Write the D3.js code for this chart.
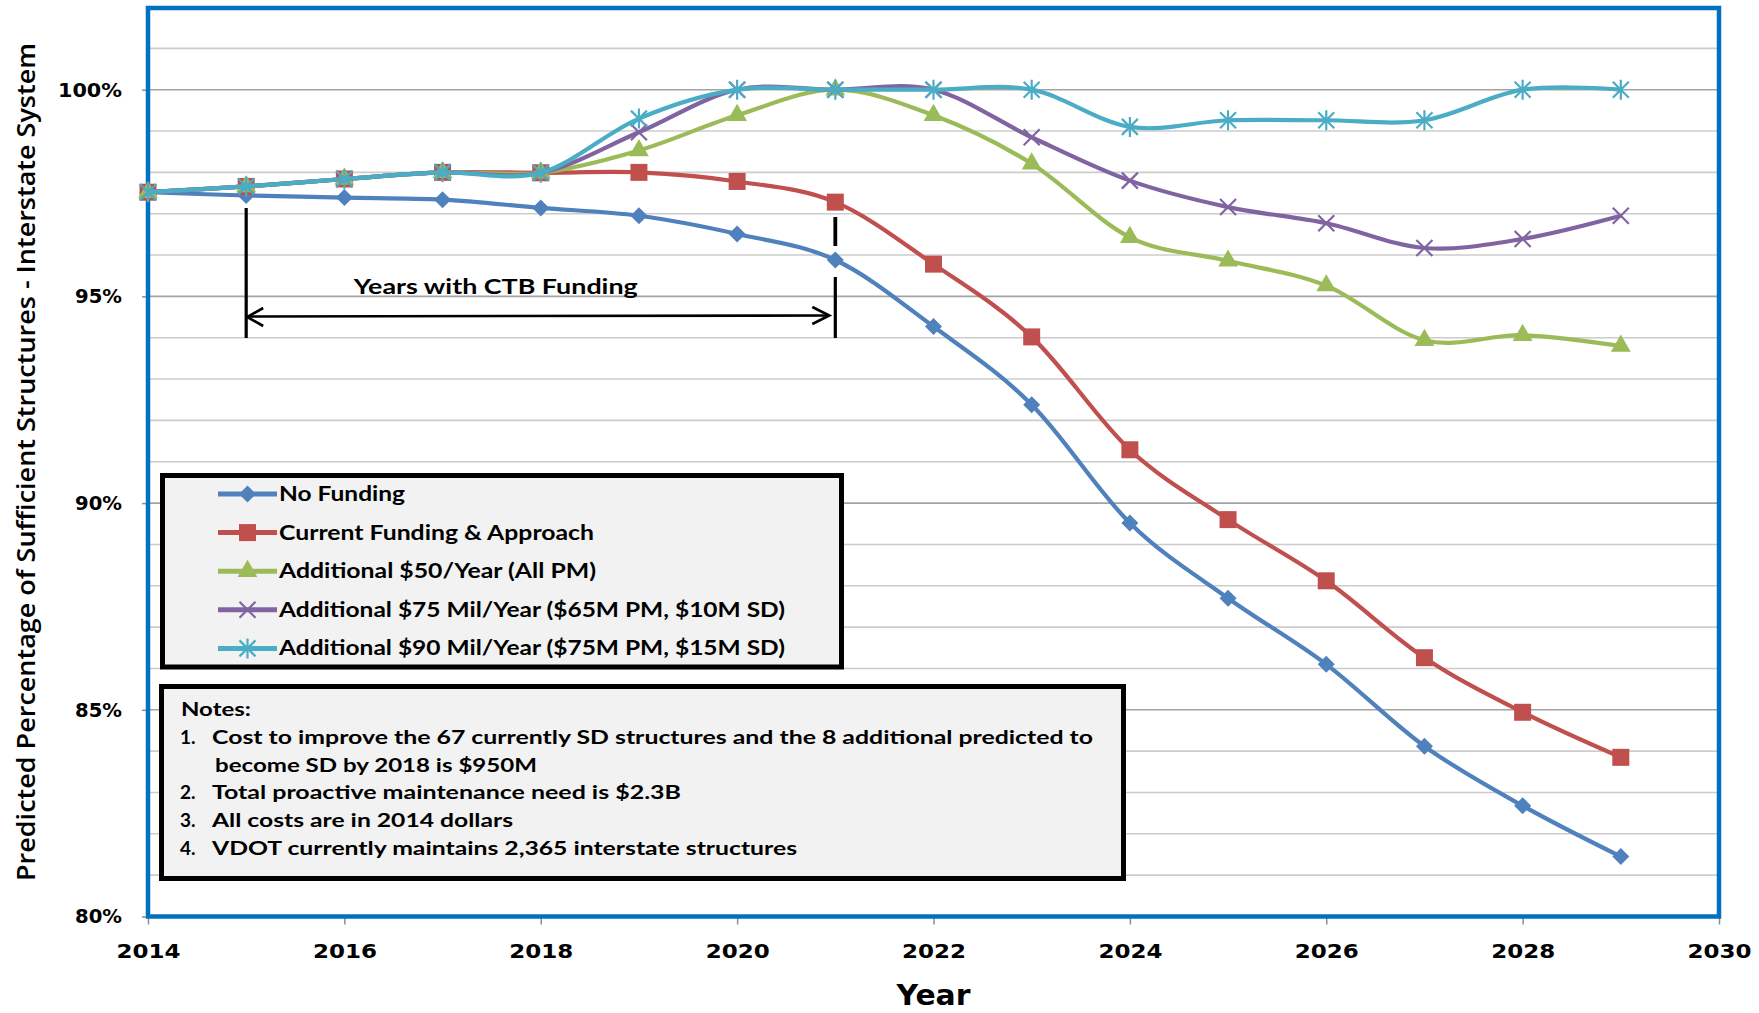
<!DOCTYPE html>
<html>
<head>
<meta charset="utf-8">
<script src="https://cdn.jsdelivr.net/npm/d3@7"></script>
<style>
  html, body { margin: 0; padding: 0; background: #ffffff; }
  svg { display: block; }
</style>
</head>
<body>
<svg id="chart" width="1759" height="1013"></svg>
<script>
// ---- data ----
const years = [2014, 2015, 2016, 2017, 2018, 2019, 2020, 2021, 2022, 2023, 2024, 2025, 2026, 2027, 2028, 2029];
const noFunding      = [97.52, 97.44, 97.39, 97.34, 97.14, 96.95, 96.51, 95.88, 94.27, 92.38, 89.52, 87.70, 86.10, 84.12, 82.68, 81.45];
const currentFunding = [97.52, 97.66, 97.84, 98.00, 97.99, 98.00, 97.78, 97.28, 95.78, 94.02, 91.29, 89.60, 88.12, 86.26, 84.94, 83.85];
const add50          = [97.52, 97.66, 97.84, 98.00, 97.99, 98.53, 99.38, 100.0, 99.38, 98.21, 96.43, 95.86, 95.26, 93.94, 94.06, 93.80];
const add75          = [97.52, 97.66, 97.84, 98.00, 97.99, 98.97, 100.0, 100.0, 100.0, 98.85, 97.80, 97.16, 96.77, 96.17, 96.39, 96.95];
const add90          = [97.52, 97.66, 97.84, 98.00, 97.99, 99.30, 100.0, 100.0, 100.0, 100.0, 99.10, 99.26, 99.26, 99.26, 100.0, 100.0];

const seriesNames = [
  "No Funding",
  "Current Funding & Approach",
  "Additional $50/Year (All PM)",
  "Additional $75 Mil/Year ($65M PM, $10M SD)",
  "Additional $90 Mil/Year ($75M PM, $15M SD)"
];
const seriesValues = [noFunding, currentFunding, add50, add75, add90];
const seriesColors = ["#4F81BD", "#C0504D", "#9BBB59", "#8064A2", "#4BACC6"];
const seriesSymbols = ["diamond", "square", "triangle", "cross", "asterisk"];

const yTickValues = [80, 85, 90, 95, 100];
const yGridValues = [81, 82, 83, 84, 85, 86, 87, 88, 89, 90, 91, 92, 93, 94, 95, 96, 97, 98, 99, 100, 101];
const xTickValues = [2014, 2016, 2018, 2020, 2022, 2024, 2026, 2028, 2030];

const fundingSpan = [2015, 2021];
const fundingLabel = "Years with CTB Funding";
const notesTitle = "Notes:";
const notes = [
  ["1.", "Cost to improve the 67 currently SD structures and the 8 additional predicted to", "become SD by 2018 is $950M"],
  ["2.", "Total proactive maintenance need is $2.3B"],
  ["3.", "All costs are in 2014 dollars"],
  ["4.", "VDOT currently maintains 2,365 interstate structures"]
];
const yTitle = "Predicted Percentage of Sufficient Structures - Interstate System";
const xTitle = "Year";

// ---- layout ----
const plot = { left: 148, right: 1719, top: 7, bottom: 916.5 };
const FONT = "Lato, 'Open Sans', sans-serif";
const WIDE_FONT = "'DejaVu Sans', Verdana, sans-serif";

const svg = d3.select("#chart");

const x = d3.scaleLinear().domain([2014, 2030]).range([plot.left, plot.right]);
const y = d3.scaleLinear().domain([80, 102]).range([plot.bottom, plot.top]);

// stretch a text element to a given rendered width
function fit(sel, w) {
  sel.attr("textLength", w).attr("lengthAdjust", "spacingAndGlyphs");
}

// ---- gridlines ----
svg.append("g").selectAll("line")
  .data(yGridValues)
  .join("line")
  .attr("x1", plot.left).attr("x2", plot.right)
  .attr("y1", d => y(d)).attr("y2", d => y(d))
  .attr("stroke", d => d % 5 === 0 ? "#a3a3a3" : "#cccccc")
  .attr("stroke-width", 1.6);

// ---- axes ----
const yAxis = svg.append("g")
  .attr("transform", `translate(${plot.left},0)`)
  .call(d3.axisLeft(y).tickValues(yTickValues).tickFormat(d => d + "%").tickSize(6).tickPadding(20));
yAxis.select(".domain").remove();
yAxis.selectAll(".tick line").attr("stroke", "#8c8c8c").attr("stroke-width", 1.5);
yAxis.selectAll(".tick text")
  .attr("font-family", WIDE_FONT).attr("font-weight", 700).attr("font-size", 20)
  .attr("fill", "#000")
  .each(function (d) { fit(d3.select(this), String(d).length >= 3 ? 64 : 47); });

const xAxis = svg.append("g")
  .attr("transform", `translate(0,${plot.bottom})`)
  .call(d3.axisBottom(x).tickValues(xTickValues).tickFormat(d3.format("d")).tickSize(8).tickPadding(19));
xAxis.select(".domain").remove();
xAxis.selectAll(".tick line").attr("stroke", "#8c8c8c").attr("stroke-width", 1.5);
xAxis.selectAll(".tick text")
  .attr("font-family", WIDE_FONT).attr("font-weight", 700).attr("font-size", 20)
  .attr("fill", "#000")
  .each(function () { fit(d3.select(this), 64); });

// ---- plot border ----
svg.append("rect")
  .attr("x", plot.left).attr("y", plot.top + 1)
  .attr("width", plot.right - plot.left).attr("height", plot.bottom - plot.top - 1)
  .attr("fill", "none").attr("stroke", "#0070C0").attr("stroke-width", 4.5);

// ---- axis titles ----
const yt = svg.append("text")
  .attr("transform", "translate(35,462) rotate(-90)")
  .attr("text-anchor", "middle")
  .attr("font-family", "'Open Sans', 'DejaVu Sans', sans-serif").attr("font-weight", 600)
  .attr("font-size", 26).attr("fill", "#000")
  .text(yTitle);
fit(yt, 838);

const xt = svg.append("text")
  .attr("x", (plot.left + plot.right) / 2).attr("y", 1005)
  .attr("text-anchor", "middle")
  .attr("font-family", WIDE_FONT).attr("font-weight", 700).attr("font-size", 28).attr("fill", "#000")
  .text(xTitle);
fit(xt, 74);

// ---- funding-years annotation ----
const ann = svg.append("g").attr("stroke", "#000").attr("fill", "none");
const ax0 = x(fundingSpan[0]), ax1 = x(fundingSpan[1]);
ann.append("line").attr("x1", ax0).attr("x2", ax0).attr("y1", 208).attr("y2", 338).attr("stroke-width", 3.2);
ann.append("line").attr("x1", ax1).attr("x2", ax1).attr("y1", 217).attr("y2", 246).attr("stroke-width", 3.8);
ann.append("line").attr("x1", ax1).attr("x2", ax1).attr("y1", 277).attr("y2", 338).attr("stroke-width", 3.2);
ann.append("line").attr("x1", ax0 + 2).attr("x2", ax1 - 7).attr("y1", 316.5).attr("y2", 315.5).attr("stroke-width", 2.6);
ann.append("path").attr("d", `M${ax0 + 17},308 L${ax0 + 1},317 L${ax0 + 17},326`).attr("stroke-width", 2.6);
ann.append("path").attr("d", `M${ax1 - 23},307 L${ax1 - 6},315.5 L${ax1 - 23},324`).attr("stroke-width", 2.6);
const fl = svg.append("text")
  .attr("x", (ax0 + ax1) / 2 - 45).attr("y", 294)
  .attr("text-anchor", "middle")
  .attr("font-family", FONT).attr("font-weight", 700).attr("font-size", 21).attr("fill", "#000")
  .text(fundingLabel);
fit(fl, 284);

// ---- markers ----
function markerPath(kind) {
  switch (kind) {
    case "diamond": return "M0,-8.5L8.5,0L0,8.5L-8.5,0Z";
    case "square": return d3.symbol(d3.symbolSquare, 289)();
    case "triangle": return d3.symbol(d3.symbolTriangle, 170)();
    case "cross": return "M-8,-8L8,8M-8,8L8,-8";
    case "asterisk": return "M-8,-8L8,8M-8,8L8,-8M0,-10L0,10";
  }
}
function drawMarker(g, kind, color) {
  const filled = kind === "diamond" || kind === "square" || kind === "triangle";
  g.append("path")
    .attr("d", markerPath(kind))
    .attr("fill", filled ? color : "none")
    .attr("stroke", filled ? "none" : color)
    .attr("stroke-width", filled ? 0 : 2.2);
}

// ---- series lines ----
const line = d3.line()
  .x((d, i) => x(years[i]))
  .y(d => y(d))
  .curve(d3.curveCardinal.tension(0));

seriesValues.forEach((vals, s) => {
  const g = svg.append("g");
  g.append("path")
    .datum(vals)
    .attr("d", line)
    .attr("fill", "none")
    .attr("stroke", seriesColors[s])
    .attr("stroke-width", 4.2)
    .attr("stroke-linejoin", "round");
  g.selectAll("g.m")
    .data(vals)
    .join("g")
    .attr("class", "m")
    .attr("transform", (d, i) => `translate(${x(years[i])},${y(d)})`)
    .each(function () { drawMarker(d3.select(this), seriesSymbols[s], seriesColors[s]); });
});

// ---- legend ----
const legend = svg.append("g");
legend.append("rect")
  .attr("x", 162.5).attr("y", 475.5).attr("width", 679).attr("height", 191.5)
  .attr("fill", "#f2f2f2").attr("stroke", "#000").attr("stroke-width", 5);
const legendWidths = [126, 315, 317, 506, 506];
seriesNames.forEach((name, s) => {
  const cy = 494 + s * 38.6;
  legend.append("line")
    .attr("x1", 218).attr("x2", 277).attr("y1", cy).attr("y2", cy)
    .attr("stroke", seriesColors[s]).attr("stroke-width", 5);
  const mg = legend.append("g").attr("transform", `translate(247.5,${cy})`);
  drawMarker(mg, seriesSymbols[s], seriesColors[s]);
  const t = legend.append("text")
    .attr("x", 279).attr("y", cy + 7)
    .attr("font-family", FONT).attr("font-weight", 700).attr("font-size", 20).attr("fill", "#000")
    .text(name);
  fit(t, legendWidths[s]);
});

// ---- notes box ----
const nb = svg.append("g");
nb.append("rect")
  .attr("x", 161.5).attr("y", 686.5).attr("width", 962).attr("height", 192)
  .attr("fill", "#f2f2f2").attr("stroke", "#000").attr("stroke-width", 5);
const nt = nb.append("text")
  .attr("x", 181).attr("y", 716)
  .attr("font-family", FONT).attr("font-weight", 700).attr("font-size", 19).attr("fill", "#000")
  .text(notesTitle);
fit(nt, 70);
const noteWidths = [[881, 322], [469], [301], [585]];
let rowY = 744;
notes.forEach((n, k) => {
  nb.append("text")
    .attr("x", 180).attr("y", rowY)
    .attr("font-family", FONT).attr("font-weight", 700).attr("font-size", 19).attr("fill", "#000")
    .text(n[0]);
  n.slice(1).forEach((ln, j) => {
    const t = nb.append("text")
      .attr("x", j === 0 ? 212 : 215).attr("y", rowY)
      .attr("font-family", FONT).attr("font-weight", 700).attr("font-size", 19).attr("fill", "#000")
      .text(ln);
    fit(t, noteWidths[k][j]);
    rowY += 27.7;
  });
});
</script>
</body>
</html>
